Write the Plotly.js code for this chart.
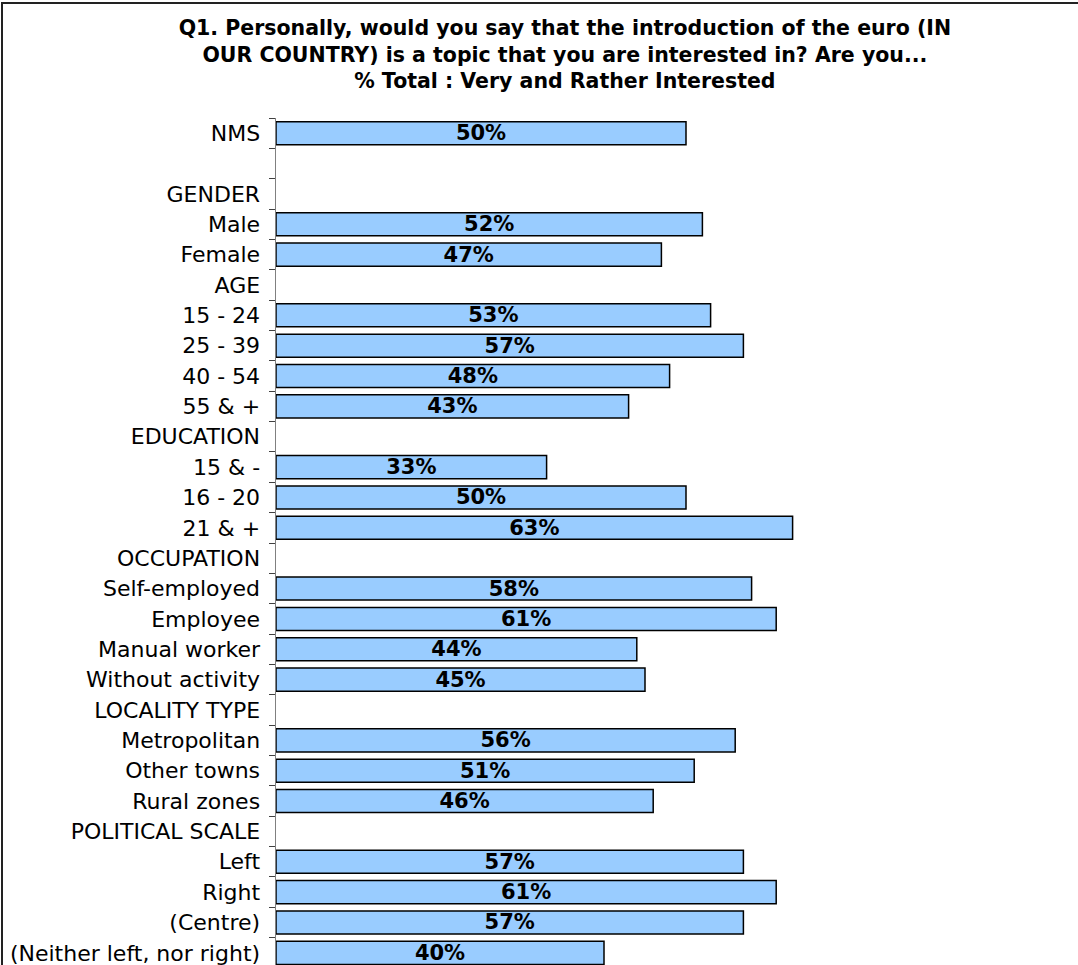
<!DOCTYPE html>
<html>
<head>
<meta charset="utf-8">
<script src="https://cdn.plot.ly/plotly-3.0.1.min.js"></script>
<style>
  html, body { margin: 0; padding: 0; background: #ffffff; }
  #wrap { position: relative; width: 1078px; height: 965px; overflow: hidden; }
  #chart { width: 1078px; height: 965px; }
  #frame { position: absolute; left: 1px; top: 2px; width: 1100px; height: 1000px;
           border-top: 2px solid #222; border-left: 2px solid #222; pointer-events: none; }
</style>
</head>
<body>
<div id="wrap">
  <div id="chart"></div>
  <div id="frame"></div>
</div>
<script>
// Row labels (top to bottom); " " is the empty spacer row
const categories = [
  "NMS", " ", "GENDER", "Male", "Female",
  "AGE", "15 - 24", "25 - 39", "40 - 54", "55 & +",
  "EDUCATION", "15 & -", "16 - 20", "21 & +",
  "OCCUPATION", "Self-employed", "Employee", "Manual worker", "Without activity",
  "LOCALITY TYPE", "Metropolitan", "Other towns", "Rural zones",
  "POLITICAL SCALE", "Left", "Right", "(Centre)", "(Neither left, nor right)"
];
// % Very and Rather Interested (null = heading row without a bar)
const values = [
  50, null, null, 52, 47,
  null, 53, 57, 48, 43,
  null, 33, 50, 63,
  null, 58, 61, 44, 45,
  null, 56, 51, 46,
  null, 57, 61, 57, 40
];
const titleLines = [
  "Q1. Personally, would you say that the introduction of the euro (IN",
  "OUR COUNTRY) is a topic that you are interested in? Are you...",
  "% Total : Very and Rather Interested"
];

const trace = {
  type: "bar",
  orientation: "h",
  x: values,
  y: categories,
  marker: { color: "#99CCFF", line: { color: "#000000", width: 1.5 } },
  texttemplate: "%{x}%",
  textposition: "inside",
  insidetextanchor: "middle",
  constraintext: "none",
  textfont: { family: "DejaVu Sans", size: 21, color: "#000000", weight: "bold" },
  hoverinfo: "none",
  cliponaxis: false
};

const layout = {
  width: 1078,
  height: 965,
  paper_bgcolor: "#ffffff",
  plot_bgcolor: "#ffffff",
  margin: { l: 276, r: 64, t: 118, b: 0, pad: 0 },
  showlegend: false,
  bargap: 0.24,
  title: {
    text: titleLines.join("<br>"),
    font: { family: "DejaVu Sans", size: 20.5, color: "#000000", weight: "bold" },
    x: 0.524, xref: "container", xanchor: "center",
    y: 1 - 35 / 965, yref: "container", yanchor: "top"
  },
  xaxis: {
    range: [0, 90],
    showgrid: false, zeroline: false, showline: false,
    showticklabels: false, ticks: "", fixedrange: true
  },
  yaxis: {
    type: "category",
    categoryorder: "array",
    categoryarray: categories,
    range: [27.4, -0.5],
    showgrid: false, zeroline: false,
    showline: true, linecolor: "#808080", linewidth: 1.5,
    ticks: "outside", tickson: "boundaries", ticklen: 6, tickcolor: "#404040", tickwidth: 1,
    ticklabelstandoff: 10,
    tickfont: { family: "DejaVu Sans", size: 22, color: "#000000" },
    fixedrange: true
  }
};

Plotly.newPlot("chart", [trace], layout, { displayModeBar: false, staticPlot: true });
</script>
</body>
</html>
